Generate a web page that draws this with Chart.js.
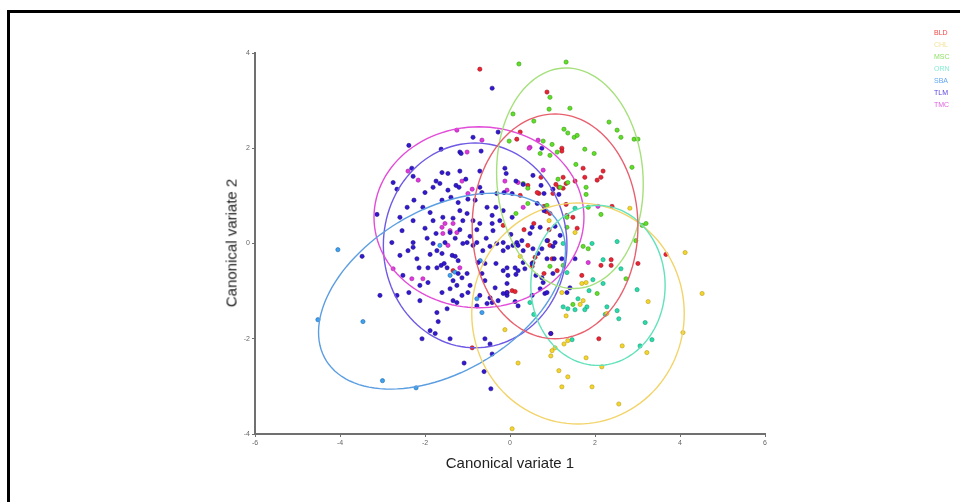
<!DOCTYPE html>
<html>
<head>
<meta charset="utf-8">
<script src="https://cdn.jsdelivr.net/npm/chart.js@4.4.1/dist/chart.umd.min.js"></script>
<style>
  html, body { margin: 0; padding: 0; background: #fff; overflow: hidden; }
  #wrap { position: relative; width: 960px; height: 502px; }
  #frame { position: absolute; left: 7px; top: 10px; width: 1000px; height: 600px; border: 3px solid #000; }
  canvas { position: absolute; left: 0; top: 0; }
  .title { position: absolute; font-family: "Liberation Sans", Arial, sans-serif; font-size: 15px; color: #222; white-space: nowrap; }
  #xTitle { left: 510px; top: 454px; transform: translateX(-50%); }
  #yTitle { left: 231px; top: 243px; transform: translate(-50%, -50%) rotate(-90deg); }
  #legend { position: absolute; left: 934px; top: 27px; font-family: "Liberation Sans", Arial, sans-serif; font-size: 7px; line-height: 12px; }
</style>
</head>
<body>
<div id="wrap">
  <div id="frame"></div>
  <canvas id="chart" width="960" height="502"></canvas>
  <div class="title" id="xTitle">Canonical variate 1</div>
  <div class="title" id="yTitle">Canonical variate 2</div>
  <div id="legend"></div>
</div>
<script>
// Groups (legend order)
const groups = ['BLD', 'CHL', 'MSC', 'ORN', 'SBA', 'TLM', 'TMC'];

// Canonical scores: [cv1, cv2]
const bldPoints = [
  [-0.71, 3.66], [0.87, 3.18], [0.24, 2.34], [0.16, 2.19], [1.22, 2.0], [1.22, 1.94], [1.72, 1.58],
  [2.19, 1.52], [2.14, 1.39], [2.05, 1.33], [1.76, 1.39], [1.53, 1.31], [1.25, 1.39], [1.08, 1.24],
  [1.15, 1.18], [1.32, 1.26], [1.25, 1.16], [0.73, 1.39], [0.68, 1.05], [0.24, 1.01], [1.32, 0.82],
  [0.8, 0.78], [0.85, 0.67], [1.01, 1.05], [2.4, 0.78], [0.94, 0.63], [1.58, 0.32], [1.34, 0.59],
  [0.33, 0.29], [0.56, 0.42], [0.92, 0.29], [0.42, 1.22], [0.64, 1.07], [1.48, 0.55], [-0.16, 0.38],
  [0.89, 0.06], [0.54, -0.4], [0.59, -0.29], [0.52, -0.48], [0.42, -0.04], [0.99, -0.32], [0.8, -0.63],
  [1.11, -0.57], [1.69, -0.67], [2.38, -0.34], [2.38, -0.46], [2.14, -0.46], [3.01, -0.42], [3.67, -0.23],
  [0.05, -0.99], [0.12, -1.01], [-0.07, -1.03], [0.96, -1.89], [2.09, -2.0], [-1.34, -0.57], [-0.89, -2.19],
  [0.94, -0.04]
];
const chlPoints = [
  [4.12, -0.19], [4.52, -1.05], [4.07, -1.87], [3.25, -1.22], [3.22, -2.29], [2.64, -2.15], [2.56, -3.37],
  [2.16, -2.59], [1.93, -3.01], [1.79, -2.4], [1.36, -2.8], [1.22, -3.01], [1.15, -2.67], [0.99, -2.25],
  [1.06, -2.19], [0.96, -2.36], [1.27, -2.11], [1.36, -2.04], [0.19, -2.51], [-0.12, -1.81], [0.05, -3.89],
  [1.65, -1.28], [1.72, -1.2], [1.69, -0.84], [1.32, -1.52], [1.22, -1.03], [2.28, -1.47], [1.79, -0.82],
  [2.82, 0.74], [0.92, 0.48], [1.53, 0.23], [0.24, -0.27]
];
const mscPoints = [
  [0.21, 3.77], [1.32, 3.81], [0.94, 3.07], [0.92, 2.82], [1.41, 2.84], [0.07, 2.72], [0.56, 2.57],
  [1.27, 2.4], [1.36, 2.32], [1.51, 2.23], [1.58, 2.27], [2.33, 2.55], [2.52, 2.38], [2.61, 2.23],
  [2.92, 2.19], [3.01, 2.19], [2.87, 1.6], [-0.02, 2.15], [0.78, 2.15], [0.99, 2.08], [0.71, 1.89],
  [0.94, 1.85], [1.11, 1.92], [1.76, 1.98], [1.98, 1.89], [1.55, 1.66], [3.11, 0.38], [3.2, 0.42],
  [1.36, 1.28], [0.31, 1.26], [0.42, 1.16], [1.13, 1.35], [1.79, 1.18], [1.79, 1.03], [2.14, 0.61],
  [0.14, 0.63], [0.42, 0.84], [0.87, 0.8], [1.34, 0.55], [1.84, 0.76], [1.34, 0.34], [0.94, -0.48],
  [1.25, -0.46], [1.72, -0.06], [1.84, -0.11], [2.05, -1.05], [1.48, -1.28], [2.96, 0.06], [2.73, -0.74],
  [1.18, 1.18]
];
const ornPoints = [
  [2.52, 0.04], [2.99, -0.97], [3.18, -1.66], [3.34, -2.02], [3.06, -2.15], [2.52, -1.41], [2.56, -1.58],
  [2.28, -1.33], [2.24, -1.49], [2.19, -0.84], [1.95, -0.76], [1.81, -1.33], [1.76, -1.39], [1.6, -1.16],
  [1.53, -1.39], [1.36, -1.37], [1.25, -1.33], [1.46, -2.02], [1.86, -0.99], [1.34, -0.61], [0.47, -1.24],
  [0.56, -1.49], [2.19, -0.34], [2.61, -0.53], [1.53, 0.74], [1.93, 0.0], [1.25, 0.0]
];
const sbaPoints = [
  [-4.05, -0.13], [-4.52, -1.6], [-3.46, -1.64], [-3.0, -2.88], [-2.21, -3.03], [-1.65, -0.04],
  [-1.41, -0.67], [-1.3, -0.6], [-0.7, -0.36], [-0.66, -1.45], [-0.78, -1.16]
];
const tlmPoints = [
  [-0.42, 3.26], [-2.38, 2.06], [-1.62, 1.98], [-0.87, 2.23], [-1.18, 1.92], [-0.28, 2.34], [-0.71, 1.52],
  [-2.31, 1.58], [-2.28, 1.41], [-2.75, 1.28], [-2.66, 1.14], [-3.13, 0.61], [-0.68, 1.94], [-1.15, 1.89],
  [-1.6, 1.49], [-1.46, 1.47], [-1.18, 1.52], [-0.12, 1.58], [-0.09, 1.47], [0.14, 1.31], [0.31, 1.24],
  [-1.74, 1.31], [-1.65, 1.26], [-1.27, 1.22], [-1.2, 1.18], [-1.04, 1.35], [-2.0, 1.07], [-1.81, 1.18],
  [-1.46, 1.12], [-0.71, 1.18], [-0.66, 1.07], [-0.31, 1.05], [-0.14, 1.07], [0.05, 1.05], [0.73, 1.22],
  [0.8, 1.05], [1.01, 1.14], [0.64, 0.84], [0.8, 0.69], [-2.42, 0.76], [-2.05, 0.76], [-1.88, 0.65],
  [-2.26, 0.91], [-1.6, 0.91], [-1.39, 0.97], [-1.22, 0.86], [-0.99, 0.93], [-0.82, 0.91], [-1.18, 0.69],
  [-1.01, 0.63], [-0.54, 0.76], [-0.33, 0.76], [-0.42, 0.59], [-0.16, 0.69], [-2.59, 0.55], [-2.28, 0.48],
  [-1.81, 0.48], [-1.58, 0.55], [-1.34, 0.53], [-1.11, 0.48], [-0.87, 0.48], [-0.71, 0.42], [-0.42, 0.42],
  [-0.24, 0.48], [0.05, 0.55], [0.52, 0.34], [0.71, 0.34], [1.06, 0.36], [-2.54, 0.27], [-2.0, 0.32],
  [-1.74, 0.21], [-1.41, 0.23], [-1.18, 0.29], [-0.94, 0.15], [-0.78, 0.29], [-0.56, 0.11], [-0.4, 0.27],
  [0.02, 0.19], [0.28, 0.06], [0.47, 0.21], [0.87, 0.06], [1.18, 0.17], [-2.78, 0.02], [-2.28, 0.02],
  [-1.81, 0.0], [-1.53, 0.02], [-1.01, 0.02], [-0.78, 0.02], [-0.31, 0.0], [0.16, 0.02], [1.06, 0.02],
  [-3.06, -1.09], [-2.66, -1.09], [-2.38, -1.03], [-2.59, -0.25], [-2.19, -0.32], [-2.14, -0.51],
  [-2.52, -0.67], [-2.12, -0.88], [-1.93, -0.82], [-1.88, -0.23], [-1.72, -0.15], [-1.6, -0.21],
  [-1.93, -0.51], [-1.72, -0.51], [-1.62, -0.46], [-1.55, -0.42], [-1.36, -0.25], [-1.29, -0.27],
  [-1.22, -0.36], [-1.22, -0.63], [-1.13, -0.72], [-1.34, -0.78], [-1.25, -0.88], [-1.41, -0.95],
  [-1.6, -1.03], [-1.13, -1.09], [-0.99, -1.03], [-0.94, -0.88], [-1.01, -0.63], [-0.75, -0.4],
  [-0.59, -0.42], [-0.66, -0.63], [-0.59, -0.78], [-0.33, -0.42], [-0.16, -0.15], [-0.16, -0.57],
  [-0.35, -0.93], [-0.71, -1.09], [-0.47, -1.14], [-0.28, -1.2], [-0.07, -1.09], [-0.42, -1.24],
  [-0.54, -1.26], [-0.78, -1.31], [-1.34, -1.2], [-1.25, -1.24], [-1.48, -1.37], [-1.72, -1.45],
  [-1.88, -1.83], [-2.07, -2.0], [-1.76, -1.89], [-1.41, -2.0], [-0.59, -2.0], [-0.47, -2.11],
  [-0.07, -1.03], [0.19, -0.57], [0.31, -0.4], [0.07, -0.04], [0.31, -0.15], [0.52, -0.42], [0.52, -1.09],
  [0.78, -0.82], [0.82, -1.05], [-0.87, -0.04], [-0.64, -0.15], [-0.47, -0.06], [-1.11, 0.0], [-1.29, 0.11],
  [-1.95, 0.11], [-2.28, -0.08], [-2.4, -0.15], [-3.48, -0.27], [-1.08, -2.51], [-0.42, -2.32],
  [-0.61, -2.69], [-0.45, -3.05], [-1.69, -1.64], [-2.12, -1.2], [-1.48, -0.51], [0.96, -1.89],
  [-0.16, 0.02], [-0.05, -0.08], [0.19, -0.04], [0.54, -0.11], [0.75, -0.11], [0.66, -0.21], [1.01, -0.06],
  [1.04, -0.32], [0.87, -0.32], [1.22, -0.32], [-0.07, -0.51], [0.12, -0.51], [0.35, -0.53], [-0.05, -0.67],
  [0.14, -0.65], [0.61, -0.67], [0.75, -0.72], [1.01, -0.63], [-0.07, -0.84], [-0.16, -1.05], [0.12, -1.22],
  [0.19, -1.31], [0.71, -0.95], [0.87, -1.03], [1.41, -0.93], [1.34, -1.03], [1.53, -0.32], [0.75, 2.0],
  [0.54, 1.43], [1.15, 1.03]
];
const tmcPoints = [
  [-1.25, 2.38], [-0.66, 2.17], [-1.01, 1.92], [-2.4, 1.52], [-2.16, 1.33], [-1.13, 1.31], [-0.99, 1.05],
  [-0.89, 1.14], [-1.53, 0.42], [-1.41, 0.27], [-1.6, 0.34], [-0.12, 1.31], [-0.07, 1.12], [0.19, 1.28],
  [0.47, 2.02], [0.66, 2.17], [0.78, 1.54], [0.31, 0.76], [-2.75, -0.53], [-2.31, -0.74], [-2.05, -0.74],
  [-1.18, -0.51], [-1.46, -0.04], [1.84, -0.4], [2.07, 0.78], [0.45, 2.0], [-1.34, 0.42], [-1.25, 0.23],
  [-1.58, 0.21]
];

// 95% ellipses per group: centre, semi-axes, rotation (deg)
const ellipseCx = [1.06, 1.6, 1.41, 2.07, -1.6, -0.82, -0.73];
const ellipseCy = [0.36, -1.47, 1.37, -0.88, -1.0, -0.04, 0.55];
const ellipseA = [1.95, 2.5, 1.72, 1.58, 3.1, 2.16, 2.47];
const ellipseB = [2.36, 2.32, 2.32, 1.68, 1.75, 2.15, 1.9];
const ellipseAngle = [0, 0, 5, 0, 25, 0, 0];

const pointColors = ['#ec2432', '#f4d62a', '#5ee026', '#26dcaa', '#3ca2f2', '#3318d2', '#e236e0'];
const pointBorders = ['#9a1424', '#b89a14', '#3a9a14', '#189a72', '#2066a8', '#1c0c86', '#9a229a'];
const ellipseColors = ['#e8606e', '#f2d46a', '#a6e07c', '#62e2ba', '#5c9ee2', '#6e5ae4', '#e24cd8'];
const legendColors = ['#f04a4a', '#f2e29a', '#8ee068', '#86eed2', '#64a8f0', '#5a44e0', '#e064e0'];

const groupPoints = [bldPoints, chlPoints, mscPoints, ornPoints, sbaPoints, tlmPoints, tmcPoints];
const drawOrder = [5, 6, 4, 1, 3, 2, 0];

const datasets = drawOrder.map(i => ({
  label: groups[i],
  data: groupPoints[i].map(p => ({ x: p[0], y: p[1] })),
  backgroundColor: pointColors[i],
  borderColor: pointBorders[i],
  borderWidth: 0.6,
  pointRadius: 2.1
}));

// Draw the group ellipses through the chart scales
const ellipsePlugin = {
  id: 'ellipses',
  afterDatasetsDraw(chart) {
    const { ctx, scales: { x, y } } = chart;
    ctx.save();
    ctx.lineWidth = 1.4;
    for (const i of drawOrder) {
      const th = ellipseAngle[i] * Math.PI / 180;
      ctx.strokeStyle = ellipseColors[i];
      ctx.beginPath();
      for (let k = 0; k <= 120; k++) {
        const t = k / 120 * Math.PI * 2;
        const ex = ellipseCx[i] + ellipseA[i] * Math.cos(th) * Math.cos(t) - ellipseB[i] * Math.sin(th) * Math.sin(t);
        const ey = ellipseCy[i] + ellipseA[i] * Math.sin(th) * Math.cos(t) + ellipseB[i] * Math.cos(th) * Math.sin(t);
        const px = x.getPixelForValue(ex), py = y.getPixelForValue(ey);
        if (k === 0) ctx.moveTo(px, py); else ctx.lineTo(px, py);
      }
      ctx.stroke();
    }
    ctx.restore();
  }
};

const axisColor = '#707070';

new Chart(document.getElementById('chart'), {
  type: 'scatter',
  data: { datasets },
  options: {
    responsive: false,
    animation: false,
    layout: { padding: { left: 241, right: 195, top: 53, bottom: 54 } },
    plugins: { legend: { display: false }, tooltip: { enabled: false } },
    scales: {
      x: {
        min: -6, max: 6,
        afterFit: s => { s.height = 14; },
        ticks: { stepSize: 2, font: { size: 7, family: 'Liberation Sans' }, color: '#666', padding: 2, maxRotation: 0 },
        grid: { display: true, drawOnChartArea: false, drawTicks: true, tickLength: 3, color: axisColor },
        border: { display: true, color: axisColor, width: 2 }
      },
      y: {
        min: -4, max: 4,
        afterFit: s => { s.width = 14; },
        ticks: { stepSize: 2, font: { size: 7, family: 'Liberation Sans' }, color: '#666', padding: 2 },
        grid: { display: true, drawOnChartArea: false, drawTicks: true, tickLength: 3, color: axisColor },
        border: { display: true, color: axisColor, width: 2 }
      }
    }
  },
  plugins: [ellipsePlugin]
});

// Text-only legend in the top-right corner
const legendEl = document.getElementById('legend');
groups.forEach((g, i) => {
  const d = document.createElement('div');
  d.textContent = g;
  d.style.color = legendColors[i];
  legendEl.appendChild(d);
});
</script>
</body>
</html>
